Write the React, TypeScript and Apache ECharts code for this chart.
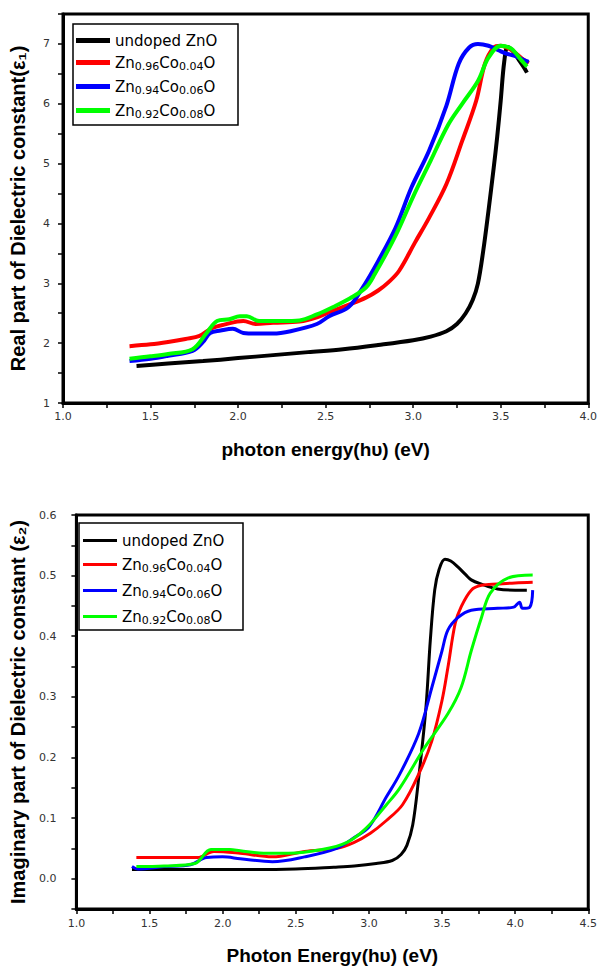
import React, { useEffect, useRef } from "react";
import * as echarts from "echarts";

const seriesNames = ["undoped ZnO", "Zn0.96Co0.04O", "Zn0.94Co0.06O", "Zn0.92Co0.08O"];
const seriesColors = ["#000000", "#ff0000", "#0000ff", "#00ff00"];

// Real part of dielectric constant (ε1) vs photon energy
const realUndoped = [
  [1.42, 1.62], [1.6, 1.66], [1.8, 1.7], [2.0, 1.75], [2.2, 1.8], [2.4, 1.85], [2.6, 1.9],
  [2.8, 1.97], [3.0, 2.05], [3.1, 2.11], [3.19, 2.2], [3.25, 2.32], [3.3, 2.5], [3.34, 2.72],
  [3.37, 3.0], [3.4, 3.54], [3.43, 4.21], [3.46, 4.93], [3.48, 5.45], [3.5, 6.05], [3.52, 6.7],
  [3.54, 6.95], [3.57, 6.88], [3.6, 6.75], [3.63, 6.62], [3.65, 6.52],
];
const realCo004 = [
  [1.38, 1.95], [1.5, 1.98], [1.6, 2.02], [1.7, 2.07], [1.78, 2.12], [1.85, 2.25], [1.92, 2.31],
  [2.03, 2.37], [2.1, 2.32], [2.2, 2.34], [2.35, 2.36], [2.45, 2.43], [2.54, 2.54], [2.63, 2.64],
  [2.73, 2.76], [2.8, 2.88], [2.86, 3.02], [2.92, 3.21], [3.01, 3.68], [3.09, 4.09], [3.19, 4.66],
  [3.28, 5.38], [3.36, 6.05], [3.41, 6.67], [3.46, 6.94], [3.5, 6.97], [3.56, 6.9], [3.62, 6.76],
  [3.66, 6.68],
];
const realCo006 = [
  [1.38, 1.7], [1.5, 1.74], [1.6, 1.79], [1.74, 1.87], [1.8, 2.02], [1.84, 2.17], [1.9, 2.21],
  [1.97, 2.24], [2.03, 2.17], [2.1, 2.16], [2.2, 2.16], [2.3, 2.2], [2.45, 2.32], [2.52, 2.45],
  [2.63, 2.6], [2.71, 2.92], [2.8, 3.37], [2.9, 3.93], [2.99, 4.6], [3.09, 5.21], [3.19, 5.97],
  [3.26, 6.67], [3.32, 6.94], [3.37, 7.0], [3.43, 6.97], [3.49, 6.89], [3.53, 6.84], [3.58, 6.8],
  [3.64, 6.72], [3.66, 6.7],
];
const realCo008 = [
  [1.38, 1.74], [1.5, 1.78], [1.6, 1.82], [1.74, 1.9], [1.82, 2.17], [1.88, 2.37], [1.95, 2.4],
  [2.01, 2.45], [2.05, 2.45], [2.12, 2.37], [2.25, 2.37], [2.35, 2.38], [2.45, 2.48], [2.54, 2.6],
  [2.64, 2.75], [2.73, 2.93], [2.78, 3.15], [2.9, 3.8], [3.0, 4.45], [3.1, 5.05], [3.2, 5.65],
  [3.28, 6.0], [3.37, 6.38], [3.43, 6.77], [3.5, 6.97], [3.56, 6.92], [3.62, 6.72], [3.65, 6.62],
];

// Imaginary part of dielectric constant (ε2) vs photon energy
const imagUndoped = [
  [1.38, 0.015], [1.6, 0.015], [1.8, 0.015], [2.0, 0.015], [2.2, 0.015], [2.5, 0.016],
  [2.76, 0.019], [2.9, 0.021], [3.05, 0.025], [3.16, 0.03], [3.22, 0.04], [3.26, 0.055],
  [3.3, 0.089], [3.34, 0.165], [3.39, 0.282], [3.42, 0.393], [3.45, 0.476], [3.48, 0.51],
  [3.52, 0.527], [3.56, 0.524], [3.61, 0.514], [3.66, 0.502], [3.7, 0.493], [3.77, 0.486],
  [3.88, 0.478], [4.0, 0.476], [4.08, 0.476],
];
const imagCo004 = [
  [1.41, 0.035], [1.6, 0.035], [1.83, 0.035], [1.94, 0.045], [2.12, 0.042], [2.34, 0.036],
  [2.56, 0.045], [2.78, 0.05], [2.9, 0.06], [3.01, 0.075], [3.12, 0.096], [3.23, 0.122],
  [3.34, 0.172], [3.43, 0.227], [3.5, 0.294], [3.54, 0.348], [3.59, 0.421], [3.63, 0.448],
  [3.7, 0.476], [3.77, 0.484], [3.88, 0.486], [4.0, 0.488], [4.12, 0.489],
];
const imagCo006 = [
  [1.38, 0.02], [1.42, 0.016], [1.6, 0.02], [1.78, 0.023], [1.89, 0.035], [2.0, 0.036],
  [2.12, 0.033], [2.34, 0.028], [2.56, 0.036], [2.78, 0.05], [2.9, 0.068], [3.0, 0.085],
  [3.12, 0.135], [3.21, 0.172], [3.34, 0.239], [3.43, 0.315], [3.5, 0.376], [3.54, 0.41],
  [3.61, 0.431], [3.7, 0.443], [3.88, 0.446], [3.99, 0.448], [4.03, 0.456], [4.05, 0.446],
  [4.1, 0.448], [4.12, 0.476],
];
const imagCo008 = [
  [1.41, 0.02], [1.6, 0.021], [1.81, 0.025], [1.92, 0.048], [2.05, 0.048], [2.12, 0.046],
  [2.28, 0.042], [2.45, 0.042], [2.68, 0.048], [2.85, 0.06], [2.98, 0.083], [3.12, 0.122],
  [3.21, 0.149], [3.38, 0.216], [3.54, 0.272], [3.63, 0.315], [3.7, 0.376], [3.77, 0.431],
  [3.83, 0.471], [3.95, 0.496], [4.12, 0.501],
];

const realSeries = [realUndoped, realCo004, realCo006, realCo008];
const imagSeries = [imagUndoped, imagCo004, imagCo006, imagCo008];

const topXTitle = "photon energy(hυ) (eV)";
const topYTitle = "Real part of Dielectric constant(ε₁)";
const botXTitle = "Photon Energy(hυ) (eV)";
const botYTitle = "Imaginary part of Dielectric constant (ε₂)";

const TICK_FONT = "DejaVu Sans";
const TITLE_FONT = "Liberation Sans";

function richName(name: string): string {
  const m = name.match(/^Zn([\d.]+)Co([\d.]+)O$/);
  if (!m) return `{n|${name}}`;
  return `{n|Zn}{s|${m[1]}}{n|Co}{s|${m[2]}}{n|O}`;
}

function fmtHalf(v: number): string {
  const k = Math.round(v * 100);
  return k % 50 === 0 ? (k / 100).toFixed(1) : "";
}

function baseAxis() {
  return {
    axisLine: { show: true, onZero: false, lineStyle: { color: "#000", width: 3 } },
    axisTick: { show: true, inside: false, length: 5, lineStyle: { color: "#000", width: 1.5 } },
    splitLine: { show: false },
  };
}

export default function App() {
  const ref = useRef<HTMLDivElement>(null);
  useEffect(() => {
    if (!ref.current) return;
    const chart = echarts.init(ref.current, null, { renderer: "svg" });
    const legendRich = {
      n: { fontSize: 15, fontFamily: TICK_FONT, color: "#000", lineHeight: 18 },
      s: { fontSize: 11, fontFamily: TICK_FONT, color: "#000", lineHeight: 11, padding: [8, 0, 0, 0] },
    };
    const series: any[] = [];
    realSeries.forEach((d, i) => {
      series.push({
        type: "line", name: seriesNames[i], xAxisIndex: 0, yAxisIndex: 0, data: d,
        showSymbol: false, symbol: "none", smooth: 0.35,
        lineStyle: { color: seriesColors[i], width: 4 }, itemStyle: { color: seriesColors[i] },
      });
    });
    imagSeries.forEach((d, i) => {
      series.push({
        type: "line", name: seriesNames[i], xAxisIndex: 1, yAxisIndex: 1, data: d,
        showSymbol: false, symbol: "none", smooth: 0.35,
        lineStyle: { color: seriesColors[i], width: 3 }, itemStyle: { color: seriesColors[i] },
      });
    });
    chart.setOption({
      animation: false,
      backgroundColor: "#ffffff",
      grid: [
        { left: 63, right: 10, top: 14, bottom: 563, show: true, borderColor: "#000", borderWidth: 3, containLabel: false },
        { left: 66, right: 10, top: 515, bottom: 57, show: true, borderColor: "#000", borderWidth: 3, containLabel: false },
      ],
      xAxis: [
        {
          ...baseAxis(), type: "value", gridIndex: 0, min: 1, max: 4, interval: 0.25,
          axisLabel: { formatter: fmtHalf, fontSize: 11, fontFamily: TICK_FONT, color: "#333", margin: 8, showMinLabel: true, showMaxLabel: true },
          name: topXTitle, nameLocation: "middle", nameGap: 37,
          nameTextStyle: { fontSize: 19, fontWeight: "bold", fontFamily: TITLE_FONT, color: "#000" },
        },
        {
          ...baseAxis(), type: "value", gridIndex: 1, min: 1, max: 4.5, interval: 0.25,
          axisLabel: { formatter: fmtHalf, fontSize: 11, fontFamily: TICK_FONT, color: "#333", margin: 9, showMinLabel: true, showMaxLabel: true },
          name: botXTitle, nameLocation: "middle", nameGap: 37,
          nameTextStyle: { fontSize: 19, fontWeight: "bold", fontFamily: TITLE_FONT, color: "#000" },
        },
      ],
      yAxis: [
        {
          ...baseAxis(), type: "value", gridIndex: 0, min: 1, max: 7.5, interval: 0.5,
          axisLabel: {
            formatter: (v: number) => (Math.abs(v - Math.round(v)) < 1e-6 ? String(Math.round(v)) : ""),
            fontSize: 11, fontFamily: TICK_FONT, color: "#333", margin: 13, showMinLabel: true, showMaxLabel: true,
          },
          name: topYTitle, nameLocation: "middle", nameGap: 35, nameRotate: 90,
          nameTextStyle: { fontSize: 20, fontWeight: "bold", fontFamily: TITLE_FONT, color: "#000" },
        },
        {
          ...baseAxis(), type: "value", gridIndex: 1, min: -0.05, max: 0.6, interval: 0.05,
          axisLabel: {
            formatter: (v: number) => {
              const k = Math.round(v * 100);
              return k % 10 === 0 ? (k / 100).toFixed(1) : "";
            },
            fontSize: 11, fontFamily: TICK_FONT, color: "#333", margin: 20, showMinLabel: true, showMaxLabel: true,
          },
          name: botYTitle, nameLocation: "middle", nameGap: 39, nameRotate: 90,
          nameTextStyle: { fontSize: 20, fontWeight: "bold", fontFamily: TITLE_FONT, color: "#000" },
        },
      ],
      legend: [
        {
          data: seriesNames, orient: "vertical", left: 76, top: 33, itemGap: 5, padding: 0,
          icon: "rect", itemWidth: 34, itemHeight: 5, selectedMode: false,
          formatter: richName, textStyle: { rich: legendRich },
        },
        {
          data: seriesNames, orient: "vertical", left: 83, top: 533, itemGap: 7, padding: 0,
          icon: "rect", itemWidth: 34, itemHeight: 3, selectedMode: false,
          formatter: richName, textStyle: { rich: legendRich },
        },
      ],
      graphic: [
        { type: "rect", shape: { x: 73, y: 24, width: 165, height: 101 }, style: { fill: "none", stroke: "#000", lineWidth: 1.5 }, z: 100 },
        { type: "rect", shape: { x: 79, y: 523, width: 164, height: 107 }, style: { fill: "none", stroke: "#000", lineWidth: 1.5 }, z: 100 },
      ],
      series,
    });
    return () => chart.dispose();
  }, []);
  return (
    <div
      ref={ref}
      style={{ position: "fixed", left: 0, top: 0, width: 600, height: 966, background: "#fff" }}
    />
  );
}
